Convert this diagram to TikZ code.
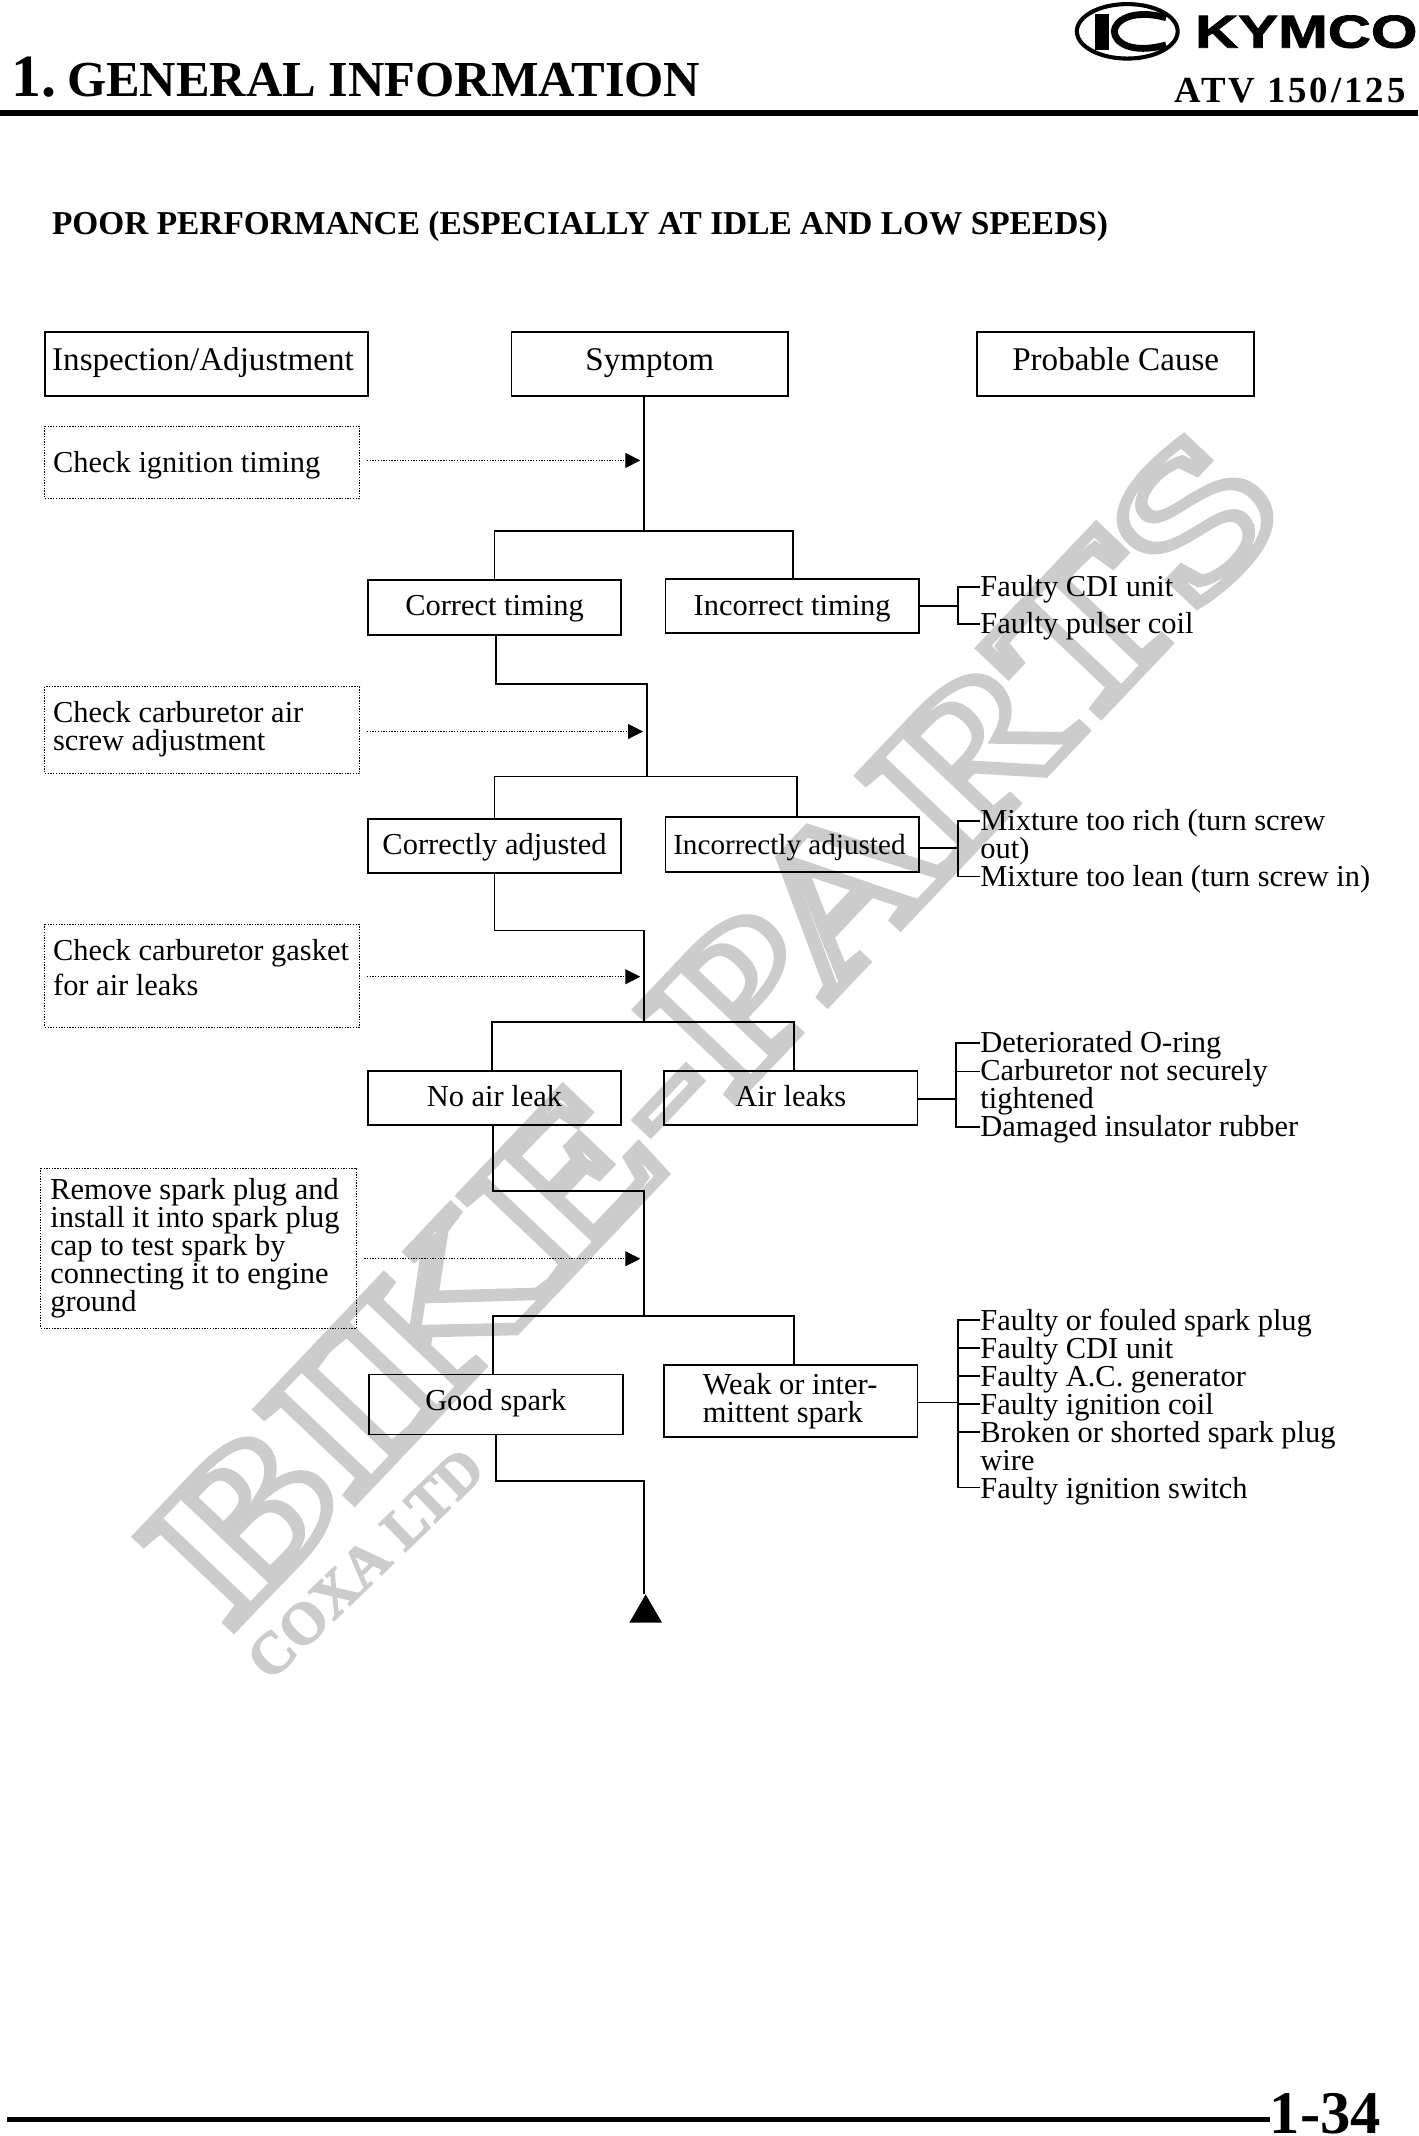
\documentclass[tikz,border=0pt]{standalone}
\usepackage{fontspec}
\setmainfont{Liberation Serif}
\newfontfamily\logofont{Liberation Sans}
\usetikzlibrary{arrows.meta,shapes.geometric}
\newcommand\hollow[1]{\special{pdf:code 1 Tr 8 w}#1\special{pdf:code 0 Tr 1 w}}
\newcommand\gap[1]{\rule[-#1pt]{0pt}{1pt}}
\tikzset{
  headbox/.style={draw,line width=1.4pt,minimum width=203pt,minimum height=47pt,inner sep=0pt,
    text height=18pt,text depth=9pt,font=\fontsize{24.3}{24}\selectfont},
  symbox/.style={draw,line width=1.4pt,minimum width=186pt,minimum height=40pt,inner sep=0pt,
    text height=18pt,text depth=6pt,font=\fontsize{22.35}{20.5}\selectfont},
  chkbox/.style={draw,dash pattern=on 1pt off 1pt,line width=.7pt,text width=219pt,inner xsep=6pt,inner ysep=0pt,
    align=flush left,font=\fontsize{22.35}{20.5}\selectfont},
  cause/.style={anchor=base west,inner sep=0pt,font=\fontsize{22.35}{20.5}\selectfont},
  link/.style={line width=1.3pt},
  dotarrow/.style={dash pattern=on 1pt off 1pt,line width=.7pt,-{Triangle[length=11pt,width=11pt]},shorten >=3pt,shorten <=5pt},
  wmark/.style={text=black!20,inner sep=0pt,anchor=base,transform shape,font=\bfseries}
}
\begin{document}
\begin{tikzpicture}[x=1pt,y=-1pt]
    \useasboundingbox (0,0) rectangle (1041,1568);

    \node[wmark,rotate=46.5,xscale=1.28] (Bike) at (559,786) {\fontsize{147}{147}\selectfont\hollow{BIKE-PARTS}};
    \node[wmark,rotate=44] (Coxa) at (278,1158) {\fontsize{43}{43}\selectfont\addfontfeature{FakeBold=2.5}COXA LTD};

    \draw[line width=3pt] (827.5,23) ellipse [x radius=37,y radius=20];
    \fill (804,10) rectangle (814,37);
    \draw[line width=5pt] (856,13) .. controls (830,6) and (818,16) .. (818,23) .. controls (818,31) and (830,40) .. (856,33);
    \node[inner sep=0pt,anchor=base west,xscale=1.29,transform shape] (Kymco) at (877,35) {\logofont\bfseries\fontsize{34}{34}\selectfont\addfontfeature{FakeBold=1.5}KYMCO};

    \node[inner sep=0pt,anchor=base west] (Chapter) at (8,71) {\bfseries\fontsize{37}{40}\selectfont{\fontsize{44}{44}\selectfont 1.}\hspace*{8pt}GENERAL INFORMATION};
    \node[inner sep=0pt,anchor=base east] (Model) at (1032,75) {\bfseries\fontsize{27}{27}\selectfont\addfontfeature{LetterSpace=8}ATV 150/125};
    \node[inner sep=0pt,anchor=base west] (Title) at (38,172) {\bfseries\fontsize{24.5}{24}\selectfont POOR PERFORMANCE (ESPECIALLY AT IDLE AND LOW SPEEDS)};
    \node[inner sep=0pt,anchor=base east] (Page) at (1014,1566.5) {\bfseries\fontsize{44.5}{44}\selectfont 1-34};
    \coordinate (TopL) at (0,83);
    \coordinate (TopR) at (1041,83);
    \coordinate (FootL) at (5,1556);
    \draw[line width=4pt] (TopL) -- (TopR);
    \draw[line width=3.7pt] (FootL) -- (FootL -| Page.west);

    \node[headbox,minimum width=237pt] (Insp) at (151.5,267.5) {Inspection/Adjustment\kern5pt};
    \node[headbox] (Symp) at (477,267.5) {Symptom};
    \node[headbox] (Prob) at (819,267.5) {Probable Cause};

    \node[chkbox,minimum height=53pt,text height=20pt,text depth=6pt] (ChkA) at (148.5,339.5) {Check ignition timing};
    \node[chkbox,minimum height=64pt] (ChkB) at (148.5,536) {Check carburetor air\\screw adjustment\gap{6}};
    \node[chkbox,minimum height=75pt] (ChkC) at (148.5,716.5) {Check carburetor gasket\\[4pt]for air leaks\gap{13}};
    \node[chkbox,minimum height=117pt,text width=218pt,inner xsep=7pt] (ChkD) at (146,916.5) {Remove spark plug and\\install it into spark plug\\cap to test spark by\\connecting it to engine\\ground};

    \node[symbox] (CorT) at (363,446) {Correct timing};
    \node[symbox,text depth=5pt] (IncT) at (581.5,445) {Incorrect timing};
    \node[symbox] (CorA) at (363,621) {Correctly adjusted};
    \node[symbox,text depth=4pt,font=\fontsize{21.4}{20.5}\selectfont] (IncA) at (581.5,620) {Incorrectly adjusted\kern4pt};
    \node[symbox,text depth=5pt] (NoLk) at (363,806) {No air leak};
    \node[symbox,text depth=5pt] (AirL) at (580.5,806) {Air leaks};
    \node[symbox,minimum height=44pt,text height=14pt,text depth=5pt] (Good) at (364,1031) {Good spark};
    \node[symbox,minimum height=53pt,text width=129pt,inner xsep=28pt,align=flush left,text height=,text depth=] (Weak) at (580.5,1028.5) {Weak or inter-\\mittent spark};

    \coordinate (JnA) at (473,338);
    \coordinate (JnB) at (475,537);
    \coordinate (JnC) at (473,717);
    \coordinate (JnD) at (473,924);

    \coordinate (TeA) at (473,390);
    \coordinate (TeAl) at (363,390);
    \coordinate (TeAr) at (582,390);
    \coordinate (StB) at (364,502);
    \coordinate (StBr) at (475,502);
    \coordinate (TeB) at (475,570);
    \coordinate (TeBl) at (363,570);
    \coordinate (TeBr) at (585,570);
    \coordinate (StC) at (363,683);
    \coordinate (StCr) at (473,683);
    \coordinate (TeC) at (473,750);
    \coordinate (TeCl) at (361,750);
    \coordinate (TeCr) at (583,750);
    \coordinate (StD) at (362,874);
    \coordinate (StDr) at (473,874);
    \coordinate (TeD) at (473,966);
    \coordinate (TeDl) at (362,966);
    \coordinate (TeDr) at (583,966);
    \coordinate (StE) at (364,1087);
    \coordinate (StEr) at (473,1087);

    \node[regular polygon,regular polygon sides=3,fill,minimum size=27.7pt,inner sep=0pt,anchor=north] (Next) at (474,1170) {};

    \draw[link] (TeA |- Symp.south) -- (TeA);
    \draw[link] (TeAl |- CorT.north) -- (TeAl) -- (TeAr) -- (TeAr |- IncT.north);
    \draw[link] (StB |- CorT.south) -- (StB) -- (StBr) -- (TeB);
    \draw[link] (TeBl |- CorA.north) -- (TeBl) -- (TeBr) -- (TeBr |- IncA.north);
    \draw[link] (StC |- CorA.south) -- (StC) -- (StCr) -- (TeC);
    \draw[link] (TeCl |- NoLk.north) -- (TeCl) -- (TeCr) -- (TeCr |- AirL.north);
    \draw[link] (StD |- NoLk.south) -- (StD) -- (StDr) -- (TeD);
    \draw[link] (TeDl |- Good.north) -- (TeDl) -- (TeDr) -- (TeDr |- Weak.north);
    \draw[link] (StE |- Good.south) -- (StE) -- (StEr) -- (StEr |- Next.north);

    \draw[dotarrow] (JnA -| ChkA.east) -- (JnA);
    \draw[dotarrow] (JnB -| ChkB.east) -- (JnB);
    \draw[dotarrow] (JnC -| ChkC.east) -- (JnC);
    \draw[dotarrow] (JnD -| ChkD.east) -- (JnD);

    \node[cause] (CaA) at (719.5,438) {Faulty CDI unit};
    \node[cause] (CaB) at (719.5,465) {Faulty pulser coil};

    \node[cause] (CbA) at (719.5,609.5) {Mixture too rich (turn screw};
    \node[cause] (CbW) at (719.5,630) {out)};
    \node[cause] (CbB) at (719.5,650.5) {Mixture too lean (turn screw in)};

    \node[cause] (CcA) at (719.5,772.5) {Deteriorated O-ring};
    \node[cause] (CcB) at (719.5,793.5) {Carburetor not securely};
    \node[cause] (CcW) at (719.5,814) {tightened};
    \node[cause] (CcC) at (719.5,834.5) {Damaged insulator rubber};

    \node[cause] (CdA) at (719.5,977) {Faulty or fouled spark plug};
    \node[cause] (CdB) at (719.5,997.5) {Faulty CDI unit};
    \node[cause] (CdC) at (719.5,1018) {Faulty A.C. generator};
    \node[cause] (CdD) at (719.5,1038.5) {Faulty ignition coil};
    \node[cause] (CdE) at (719.5,1059) {Broken or shorted spark plug};
    \node[cause] (CdW) at (719.5,1079.5) {wire};
    \node[cause] (CdF) at (719.5,1100) {Faulty ignition switch};

    \coordinate (BrA) at (703,445);
    \coordinate (BrB) at (703,622.5);
    \coordinate (BrC) at (702,807);
    \coordinate (BrD) at (703,1029.5);

    \draw[link] (BrA -| IncT.east) -- (BrA);
    \draw[link] (BrB -| IncA.east) -- (BrB);
    \draw[link] (BrC -| AirL.east) -- (BrC);
    \draw[link] (BrD -| Weak.east) -- (BrD);

    \foreach \c in {CaA,CaB}
      \draw[link] (BrA) |- ([yshift=7pt]\c.base west);
    \foreach \c in {CbA,CbB}
      \draw[link] (BrB) |- ([yshift=7pt]\c.base west);
    \foreach \c in {CcA,CcB,CcC}
      \draw[link] (BrC) |- ([yshift=7pt]\c.base west);
    \foreach \c in {CdA,CdB,CdC,CdD,CdE,CdF}
      \draw[link] (BrD) |- ([yshift=8pt]\c.base west);
\end{tikzpicture}
\end{document}
